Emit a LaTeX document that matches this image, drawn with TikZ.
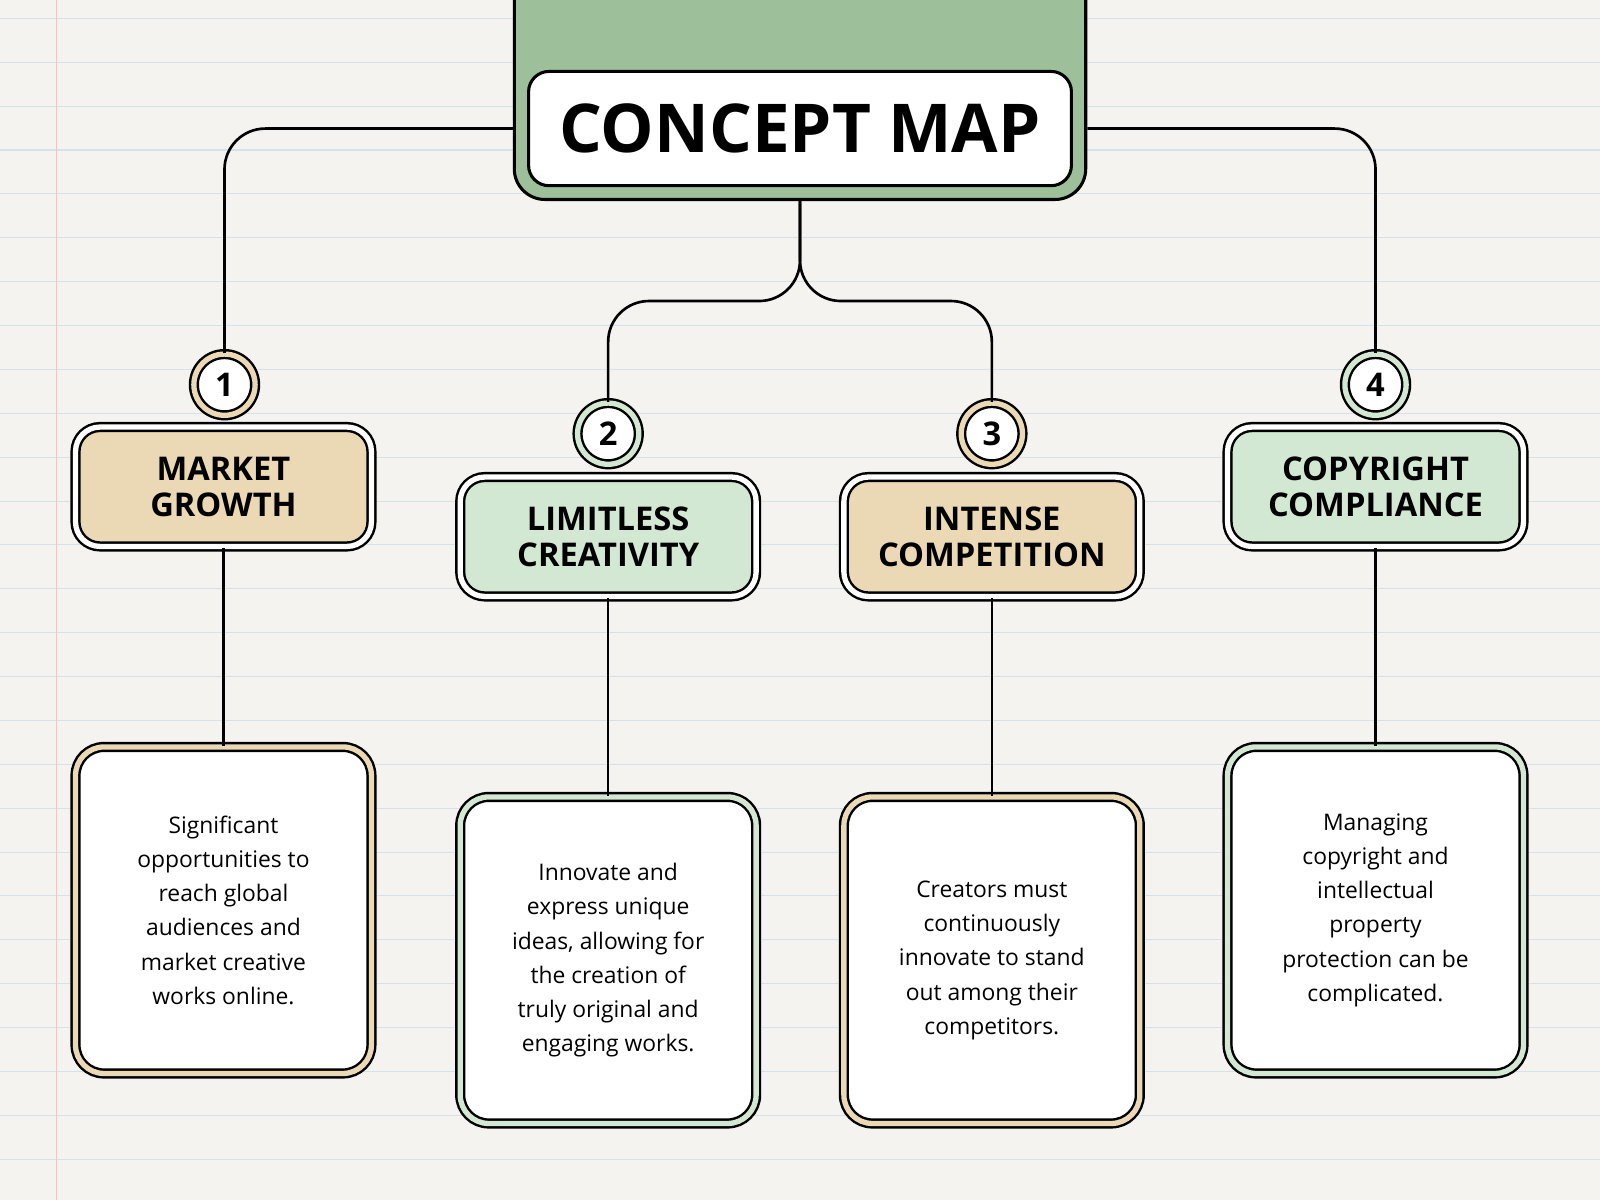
\documentclass[tikz,border=0pt]{standalone}
\usepackage{fontspec}
\setmainfont{Open Sans}
\definecolor{paper}{HTML}{F4F3EF}
\definecolor{rule}{HTML}{D6E2EA}
\definecolor{sage}{HTML}{9DBF99}
\definecolor{beige}{HTML}{EBD9B5}
\definecolor{mint}{HTML}{D3E8D3}
\begin{document}
\begin{tikzpicture}[x=0.5pt,y=-0.5pt,
  conn/.style={line width=1.3pt,rounded corners=20pt},
  head/.style={draw=black,line width=1.2pt,double=white,double distance=2.6pt,rounded corners=12pt,
    minimum width=145pt,minimum height=58.5pt,align=center,font=\fontsize{16}{17.5}\selectfont\bfseries,inner sep=0pt},
  detail/.style={draw=black,line width=1.2pt,double distance=2.6pt,fill=white,rounded corners=14pt,
    minimum width=145pt,minimum height=160pt,align=center,font=\fontsize{11.2}{16.8}\selectfont,inner sep=0pt},
  num/.style={circle,draw=black,line width=1.2pt,double distance=2.6pt,fill=white,minimum size=30pt,
    inner sep=0pt,font=\fontsize{16}{16}\selectfont\bfseries}]
\useasboundingbox (0,0) rectangle (1568,1176);
\fill[paper] (0,0) rectangle (1568,1176);
\foreach \y in {18,61,104,147,190,233,276,319,362,405,448,491,534,577,620,663,706,749,792,835,878,921,964,1007,1050,1093,1136}
  \draw[rule,line width=0.5pt] (0,\y) -- (1568,\y);
\draw[red!25,line width=0.5pt] (55,0) -- (55,1176);
% title
\node[draw=black,line width=1.5pt,fill=sage,rounded corners=15pt,minimum width=280pt,minimum height=117pt,anchor=north] (titlebg) at (784,-40) {};
\node[draw=black,line width=1.5pt,fill=white,rounded corners=10pt,minimum width=266pt,minimum height=56pt,
  font=\fontsize{33}{33}\selectfont\bfseries,inner sep=0pt] (title) at (784,126) {CONCEPT MAP};
% circles
\node[num,double=beige] (c1) at (220,377) {1};
\node[num,double=mint] (c2) at (596,425) {2};
\node[num,double=beige] (c3) at (972,425) {3};
\node[num,double=mint] (c4) at (1348,377) {4};
% headings
\node[head,fill=beige] (h1) at (219,477) {MARKET\\GROWTH};
\node[head,fill=mint] (h2) at (596,526) {LIMITLESS\\CREATIVITY};
\node[head,fill=beige] (h3) at (972,526) {INTENSE\\COMPETITION};
\node[head,fill=mint] (h4) at (1348,477) {COPYRIGHT\\COMPLIANCE};
% details
\node[detail,double=beige] (d1) at (219,892) {Significant\\opportunities to\\reach global\\audiences and\\market creative\\works online.};
\node[detail,double=mint] (d2) at (596,941) {Innovate and\\express unique\\ideas, allowing for\\the creation of\\truly original and\\engaging works.};
\node[detail,double=beige] (d3) at (972,941) {Creators must\\continuously\\innovate to stand\\out among their\\competitors.};
\node[detail,double=mint] (d4) at (1348,892) {Managing\\copyright and\\intellectual\\property\\protection can be\\complicated.};
% connectors
\draw[conn] (titlebg.west |- title) -| (c1.north);
\draw[conn] (titlebg.east |- title) -| (c4.north);
\coordinate (fork) at (784,295);
\draw[conn] (titlebg.south) -- (fork) -| (c2.north);
\draw[conn] (titlebg.south) -- (fork) -| (c3.north);
\foreach \i in {1,2,3,4} \draw[line width=1.3pt] (h\i.south) -- (d\i.north);
\end{tikzpicture}
\end{document}
